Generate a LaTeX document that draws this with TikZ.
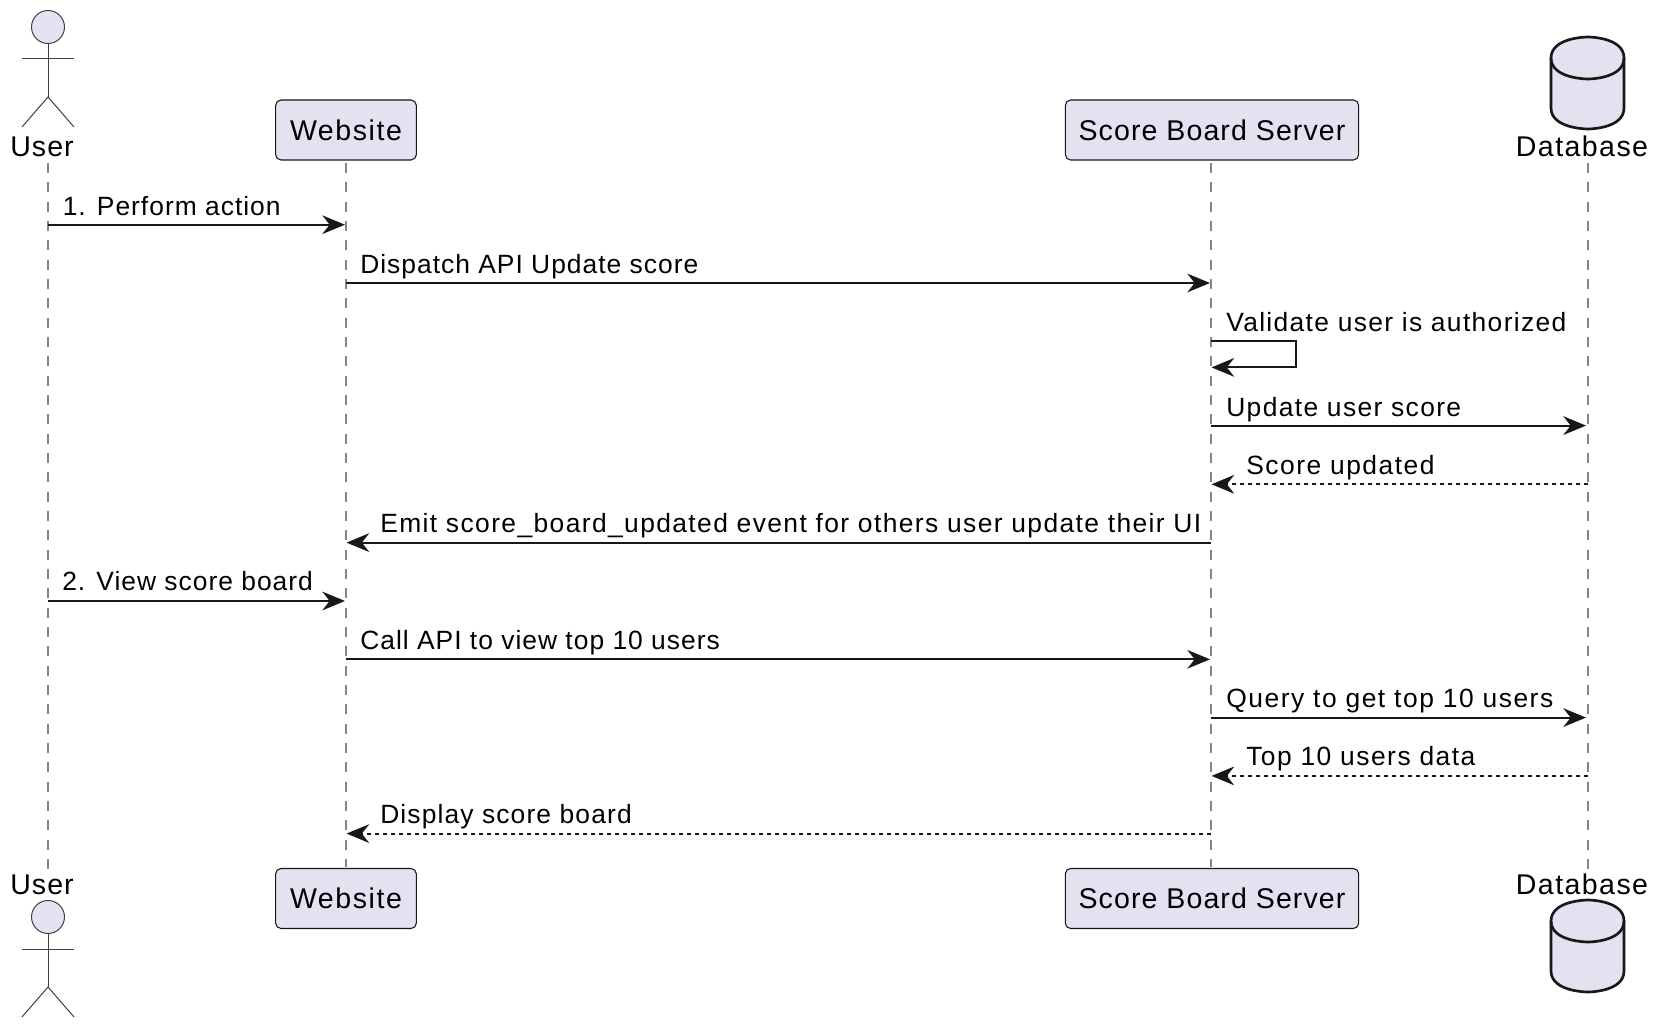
\documentclass[tikz,border=0pt]{standalone}
\usepackage{fontspec}
\setmainfont[LetterSpace=3.8]{Liberation Sans}
\usetikzlibrary{arrows.meta}
\definecolor{partfill}{HTML}{E2E2F0}
\definecolor{partline}{HTML}{181818}
\newcommand{\spaced}[1]{\addfontfeature{LetterSpace=#1}}
\tikzset{
  lifeline/.style={draw=black!48,line width=1.1pt,dash pattern=on 7.5pt off 7pt},
  partbox/.style={draw=partline,fill=partfill,line width=0.8pt,rounded corners=4pt,minimum width=#1,minimum height=45pt,inner sep=0pt,font=\fontsize{21.4}{25}\selectfont},
  partlabel/.style={anchor=base,inner sep=0pt,font=\fontsize{21.4}{25}\selectfont},
  msglabel/.style={anchor=base west,inner sep=0pt,font=\fontsize{19.8}{24}\selectfont},
  stick/.style={draw=black!75,line width=0.75pt,fill=partfill},
  cyl/.style={draw=partline,line width=2pt,fill=partfill},
  msg/.style={draw=partline,line width=1.4pt,-{Stealth[length=17pt,width=14pt,inset=5.5pt]}},
  reply/.style={msg,dash pattern=on 3pt off 3pt}
}
\begin{document}
\begin{tikzpicture}[x=0.75pt,y=-0.75pt]
\path[use as bounding box] (0,0) rectangle (1662,1030);
% lifelines
\coordinate (usera) at (48,163);
\coordinate (userb) at (48,869);
\coordinate (sitea) at (346,163);
\coordinate (siteb) at (346,867);
\coordinate (servera) at (1211,163);
\coordinate (serverb) at (1211,867);
\coordinate (dba) at (1588,163);
\coordinate (dbb) at (1588,869);
\draw [lifeline] (usera) -- (userb);
\draw [lifeline] (sitea) -- (siteb);
\draw [lifeline] (servera) -- (serverb);
\draw [lifeline] (dba) -- (dbb);
% participants, top row
\node [partlabel] (usertop) at (42,156.5) {User};
\node [partbox=105.5pt] (sitetop) at (346,130) {\spaced{5.5}Website};
\node [partbox=220pt] (servertop) at (1212,130) {Score Board Server};
\node [partlabel] (dbtop) at (1582,156.5) {\spaced{5}Database};
% participants, bottom row
\node [partlabel] (userbot) at (42,894) {User};
\node [partbox=105.5pt] (sitebot) at (346,898.5) {\spaced{5.5}Website};
\node [partbox=220pt] (serverbot) at (1212,898.5) {Score Board Server};
\node [partlabel] (dbbot) at (1582,894) {\spaced{5}Database};
% actor, top
\draw [stick] (48,27) circle (16.5);
\draw [stick] (48,43.5) -- (48,97);
\draw [stick] (22,59) -- (74,59);
\draw [stick,fill=none] (22,127) -- (48,97) -- (74,127);
% actor, bottom
\draw [stick] (48,917) circle (16.5);
\draw [stick] (48,933.5) -- (48,987);
\draw [stick] (22,949) -- (74,949);
\draw [stick,fill=none] (22,1017) -- (48,987) -- (74,1017);
% database, top
\draw [cyl] (1551,58) .. controls (1551,37) and (1588,37) .. (1588,37) .. controls (1588,37) and (1624,37) .. (1624,58) -- (1624,108) .. controls (1624,129) and (1588,129) .. (1588,129) .. controls (1588,129) and (1551,129) .. (1551,108) -- cycle;
\draw [cyl,fill=none] (1551,58) .. controls (1551,79) and (1588,79) .. (1588,79) .. controls (1588,79) and (1624,79) .. (1624,58);
% database, bottom
\draw [cyl] (1551,921) .. controls (1551,900) and (1588,900) .. (1588,900) .. controls (1588,900) and (1624,900) .. (1624,921) -- (1624,971) .. controls (1624,992) and (1588,992) .. (1588,992) .. controls (1588,992) and (1551,992) .. (1551,971) -- cycle;
\draw [cyl,fill=none] (1551,921) .. controls (1551,942) and (1588,942) .. (1588,942) .. controls (1588,942) and (1624,942) .. (1624,921);
% message ends
\coordinate (m1a) at (48,224.7);
\coordinate (m1b) at (345,224.7);
\coordinate (m2a) at (346,283);
\coordinate (m2b) at (1210,283);
\coordinate (m3a) at (1211,341.3);
\coordinate (m3c) at (1296,341.3);
\coordinate (m3d) at (1296,367.4);
\coordinate (m3b) at (1211.5,367.4);
\coordinate (m4a) at (1211,425.6);
\coordinate (m4b) at (1586,425.6);
\coordinate (m5a) at (1588,484.3);
\coordinate (m5b) at (1211.5,484.3);
\coordinate (m6a) at (1211,542.6);
\coordinate (m6b) at (346.5,542.6);
\coordinate (m7a) at (48,601);
\coordinate (m7b) at (345,601);
\coordinate (m8a) at (346,659.3);
\coordinate (m8b) at (1210,659.3);
\coordinate (m9a) at (1211,717.6);
\coordinate (m9b) at (1586,717.6);
\coordinate (m10a) at (1588,775.9);
\coordinate (m10b) at (1211.5,775.9);
\coordinate (m11a) at (1211,833.6);
\coordinate (m11b) at (346.5,833.6);
\draw [msg] (m1a) -- (m1b);
\draw [msg] (m2a) -- (m2b);
\draw [msg] (m3a) -- (m3c) -- (m3d) -- (m3b);
\draw [msg] (m4a) -- (m4b);
\draw [reply] (m5a) -- (m5b);
\draw [msg] (m6a) -- (m6b);
\draw [msg] (m7a) -- (m7b);
\draw [msg] (m8a) -- (m8b);
\draw [msg] (m9a) -- (m9b);
\draw [reply] (m10a) -- (m10b);
\draw [reply] (m11a) -- (m11b);
% message labels
\node [msglabel] (t1) at (62.5,216) {1. Perform action};
\node [msglabel] (t2) at (360,273.2) {Dispatch API Update score};
\node [msglabel] (t3) at (1226,331.5) {\spaced{5.1}Validate user is authorized};
\node [msglabel] (t4) at (1226,416.7) {\spaced{5.2}Update user score};
\node [msglabel] (t5) at (1246,474.3) {\spaced{5.7}Score updated};
\node [msglabel] (t6) at (380,532.6) {\spaced{5.3}Emit score\_board\_updated event for others user update their UI};
\node [msglabel] (t7) at (62,590.3) {2. View score board};
\node [msglabel] (t8) at (360,649.3) {Call API to view top 10 users};
\node [msglabel] (t9) at (1226,707.6) {\spaced{5.8}Query to get top 10 users};
\node [msglabel] (t10) at (1246,765.9) {\spaced{5.6}Top 10 users data};
\node [msglabel] (t11) at (380,823.6) {\spaced{4.3}Display score board};
\end{tikzpicture}
\end{document}
